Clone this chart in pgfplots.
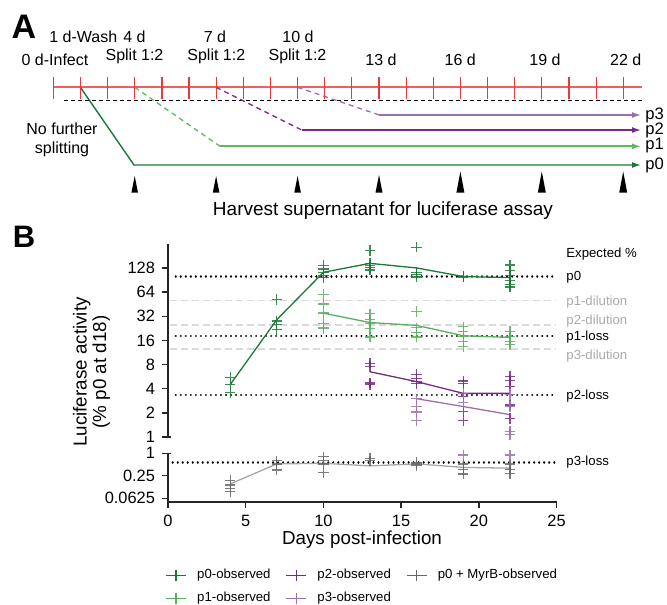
\documentclass[border=0pt]{standalone}
\usepackage{fontspec}
\setmainfont{Liberation Sans}
\usepackage{pgfplots}
\pgfplotsset{compat=1.18}
\usetikzlibrary{arrows.meta}

\definecolor{pzero}{HTML}{1B7837}
\definecolor{pone}{HTML}{5AAE61}
\definecolor{ponel}{HTML}{5DB862}
\definecolor{ptwo}{HTML}{762A83}
\definecolor{pthree}{HTML}{9970AB}
\definecolor{myrb}{HTML}{666666}
\definecolor{myrbline}{HTML}{A6A6A6}
\definecolor{tlred}{HTML}{E8383D}
\definecolor{dilgray}{HTML}{DADADA}
\definecolor{dillabel}{HTML}{AAAAAA}

\newcommand\tickfont{\fontsize{8.2pt}{9.8pt}\selectfont}
\newcommand\labfont{\fontsize{9.4pt}{9.8pt}\selectfont}
\newcommand\smallfont{\fontsize{6.6pt}{8pt}\selectfont}
\newcommand\schfont{\fontsize{8pt}{9.6pt}\selectfont}

\pgfplotsset{
  obs/.style={only marks, mark=+, mark size=2.6pt, mark options={line width=0.65pt, opacity=0.85}},
  mean/.style={no markers, line width=0.65pt},
  expd/.style={black, line width=1.1pt, dash pattern=on 0.01pt off 2.5pt, line cap=round},
  dil/.style={dilgray, line width=0.8pt, dash pattern=on 3.5pt off 2pt},
}

\begin{document}
\begin{tikzpicture}
\useasboundingbox (0,0) rectangle (333.5pt,302pt);

% canvas in pixel units: schematic A and free text
\begin{axis}[at={(0pt,0pt)}, anchor=south west, scale only axis, width=333.5pt, height=302pt,
  xmin=0, xmax=667, ymin=0, ymax=604, y dir=reverse, hide axis, clip=false]
  % timeline
  \addplot[tlred!80, line width=0.8pt] coordinates {(53.3,87.3) (641.7,87.3)};
  \addplot[tlred, only marks, mark=|, mark size=5.6pt, mark options={line width=0.6pt}] coordinates {
    (53.3,87.8) (80.4,87.8) (107.6,87.8) (134.7,87.8) (161.9,87.8) (189.0,87.8) (216.1,87.8) (243.3,87.8)
    (270.4,87.8) (297.6,87.8) (324.7,87.8) (351.8,87.8) (379.0,87.8) (406.1,87.8) (433.3,87.8) (460.4,87.8)
    (487.5,87.8) (514.7,87.8) (541.8,87.8) (569.0,87.8) (596.1,87.8) (623.2,87.8)};
  \addplot[black, line width=0.6pt, dash pattern=on 2pt off 1.5pt] coordinates {(64.3,100.7) (641.7,100.7)};
  % passages
  \addplot[pzero, line width=0.7pt, -{Latex[length=4.5pt,width=3pt]}] coordinates {(80.4,87.3) (134,165) (641,165)};
  \addplot[ponel, line width=0.65pt, dash pattern=on 2.5pt off 2pt] coordinates {(134.7,87.3) (220,146.3)};
  \addplot[ponel, line width=0.85pt, -{Latex[length=4.5pt,width=3pt]}] coordinates {(220,146.3) (641,146.3)};
  \addplot[ptwo, line width=0.65pt, dash pattern=on 2.5pt off 2pt] coordinates {(216.1,87.3) (301.7,130)};
  \addplot[ptwo, line width=0.7pt, -{Latex[length=4.5pt,width=3pt]}] coordinates {(301.7,130) (641,130)};
  \addplot[pthree, line width=0.65pt, dash pattern=on 2.5pt off 2pt] coordinates {(297.6,87.3) (379.3,115)};
  \addplot[pthree, line width=0.7pt, -{Latex[length=4.5pt,width=3pt]}] coordinates {(379.3,115) (641,115)};
  % harvest arrowheads
  \addplot[fill=black, draw=none] coordinates {(131.4,192.7) (134.7,176) (138.0,192.7)} -- cycle;
  \addplot[fill=black, draw=none] coordinates {(212.8,192.7) (216.1,176) (219.4,192.7)} -- cycle;
  \addplot[fill=black, draw=none] coordinates {(294.3,192.7) (297.6,176) (300.9,192.7)} -- cycle;
  \addplot[fill=black, draw=none] coordinates {(375.5,192.7) (379.0,175) (382.5,192.7)} -- cycle;
  \addplot[fill=black, draw=none] coordinates {(456.4,192.7) (460.4,171.5) (464.4,192.7)} -- cycle;
  \addplot[fill=black, draw=none] coordinates {(537.8,192.7) (541.8,171.5) (545.8,192.7)} -- cycle;
  \addplot[fill=black, draw=none] coordinates {(619.2,192.7) (623.2,171.5) (627.2,192.7)} -- cycle;

  \node[font=\fontsize{17pt}{20pt}\bfseries] at (axis cs:24,27) {A};
  \node[font=\fontsize{15.5pt}{18pt}\bfseries] at (axis cs:24,237) {B};
  \node[font=\schfont] at (axis cs:83.3,36.7) {1 d-Wash};
  \node[font=\schfont] at (axis cs:134.5,36.7) {4 d};
  \node[font=\schfont] at (axis cs:215,36.7) {7 d};
  \node[font=\schfont] at (axis cs:298,36.7) {10 d};
  \node[font=\schfont] at (axis cs:55,60) {0 d-Infect};
  \node[font=\schfont] at (axis cs:134.5,56) {Split 1:2};
  \node[font=\schfont] at (axis cs:216.3,56) {Split 1:2};
  \node[font=\schfont] at (axis cs:297.5,56) {Split 1:2};
  \node[font=\schfont] at (axis cs:381,60) {13 d};
  \node[font=\schfont] at (axis cs:460.3,60) {16 d};
  \node[font=\schfont] at (axis cs:545,60) {19 d};
  \node[font=\schfont] at (axis cs:625.8,60) {22 d};
  \node[font=\schfont, align=center] at (axis cs:62,140) {No further\\splitting};
  \node[font=\fontsize{8.3pt}{10pt}\selectfont, anchor=west, inner sep=0pt] at (axis cs:645,115) {p3};
  \node[font=\fontsize{8.3pt}{10pt}\selectfont, anchor=west, inner sep=0pt] at (axis cs:645,130) {p2};
  \node[font=\fontsize{8.3pt}{10pt}\selectfont, anchor=west, inner sep=0pt] at (axis cs:645,145.7) {p1};
  \node[font=\fontsize{8.3pt}{10pt}\selectfont, anchor=west, inner sep=0pt] at (axis cs:645,165) {p0};
  \node[font=\fontsize{9.5pt}{11pt}\selectfont] at (axis cs:383,211) {Harvest supernatant for luciferase assay};

  % panel B free text
  \node[font=\labfont] at (axis cs:362,540) {Days post-infection};
  \node[font=\labfont, align=center, rotate=90] at (axis cs:91.5,372) {Luciferase activity\\(\% p0 at d18)};
  \node[font=\smallfont, anchor=west, inner sep=0pt] at (axis cs:566,254) {Expected \%};
  \node[font=\smallfont, anchor=west, inner sep=0pt] at (axis cs:566,277) {p0};
  \node[font=\smallfont, anchor=west, inner sep=0pt, text=dillabel] at (axis cs:566,301.7) {p1-dilution};
  \node[font=\smallfont, anchor=west, inner sep=0pt, text=dillabel] at (axis cs:566,320.7) {p2-dilution};
  \node[font=\smallfont, anchor=west, inner sep=0pt] at (axis cs:566,336.7) {p1-loss};
  \node[font=\smallfont, anchor=west, inner sep=0pt, text=dillabel] at (axis cs:566,356) {p3-dilution};
  \node[font=\smallfont, anchor=west, inner sep=0pt] at (axis cs:566,395.7) {p2-loss};
  \node[font=\smallfont, anchor=west, inner sep=0pt] at (axis cs:566,462) {p3-loss};
\end{axis}

% panel B, upper part
\begin{axis}[at={(84pt,83.5pt)}, anchor=south west, scale only axis, width=194.25pt, height=96.6pt,
  xmin=0, xmax=25, ymode=log, log basis y=2, ymin=1, ymax=256, clip=false,
  axis x line=none, axis y line=left,
  axis line style={-, line width=0.7pt, black!85},
  tick style={line width=0.7pt, black!85}, tick align=outside, major tick length=3pt,
  yticklabel style={font=\tickfont},
  ytick={1,2,4,8,16,32,64,128}, yticklabels={1,2,4,8,16,32,64,128}]
  \addplot[dil] coordinates {(0.1,50) (24.9,50)};
  \addplot[dil] coordinates {(0.1,25) (24.9,25)};
  \addplot[dil] coordinates {(0.1,12.5) (24.9,12.5)};
  \addplot[expd] coordinates {(0.5,100) (25,100)};
  \addplot[expd] coordinates {(0.5,18.3) (25,18.3)};
  \addplot[expd] coordinates {(0.5,3.35) (25,3.35)};

  \addplot[pzero, obs] coordinates {
    (4,5.5) (4,4.5) (4,3.6)
    (7,52) (7,28) (7,25) (7,22)
    (10,137) (10,124) (10,113) (10,103) (10,97)
    (13,210) (13,146) (13,137) (13,129) (13,121)
    (16,232) (16,113) (16,107) (16,99)
    (19,101) (19,100) (19,99)
    (22,139) (22,118) (22,103) (22,90) (22,80) (22,74)};
  \addplot[pzero, mean] coordinates {(4,4.5) (7,29) (10,113) (13,146) (16,128) (19,100) (22,97)};

  \addplot[pone, obs] coordinates {
    (10,60) (10,45.6) (10,35) (10,26) (10,23.4) (10,22.3)
    (13,34.4) (13,28.9) (13,25.8) (13,22.3) (13,17.6)
    (16,36.5) (16,23) (16,20) (16,17.6)
    (19,23.7) (19,20.7) (19,17.9) (19,15.5) (19,13.4)
    (22,20.7) (22,17.9) (22,15.5) (22,14.1)};
  \addplot[pone, mean] coordinates {(10,35) (13,26.7) (16,24.6) (19,18.3) (22,17.4)};

  \addplot[ptwo, obs] coordinates {
    (13,8.3) (13,7.6) (13,4.7) (13,4.5)
    (16,6.0) (16,5.4) (16,4.9) (16,4.6)
    (19,5.0) (19,4.6) (19,3.2) (19,2.1) (19,1.6)
    (22,5.7) (22,5.1) (22,4.3) (22,2.5) (22,1.7)};
  \addplot[ptwo, mean] coordinates {(13,6.5) (16,4.9) (19,3.5) (22,3.5)};

  \addplot[pthree, obs] coordinates {
    (16,3.0) (16,2.4) (16,2.05) (16,1.6)
    (19,3.5) (19,2.7)
    (22,3.4) (22,2.4) (22,1.18) (22,1.07)};
  \addplot[pthree, mean] coordinates {(16,3.0) (19,2.4) (22,1.9)};
  % end cap at the axis bottom
  \addplot[black!85, line width=0.7pt] coordinates {(-0.2,1) (0.2,1)};
\end{axis}

% panel B, lower part
\begin{axis}[at={(84pt,51pt)}, anchor=south west, scale only axis, width=194.25pt, height=24.35pt,
  xmin=0, xmax=25, ymode=log, log basis y=2, ymin=0.0497, ymax=1, clip=false,
  axis lines=left,
  axis line style={-, line width=0.7pt, black!85},
  tick style={line width=0.7pt, black!85}, tick align=outside, major tick length=3pt,
  ticklabel style={font=\tickfont},
  xtick={0,5,10,15,20,25}, xticklabels={0,5,10,15,20,25},
  ytick={0.0625,0.25,1}, yticklabels={0.0625,0.25,1},
  legend columns=3, legend cell align=left,
  legend image code/.code={\draw[#1, mark=none] (0pt,0pt) -- (10pt,0pt); \draw[#1, only marks] plot coordinates {(5pt,0pt)}; \path (13.3pt,0pt);},
  legend style={at={(-0.008,-1.29)}, anchor=north west, draw=none, fill=none, inner sep=0pt,
    font=\smallfont, row sep=1.3pt, /tikz/every even column/.append style={column sep=5.5pt}}]
  \addlegendimage{pzero, line width=0.65pt, mark=+, mark size=2.6pt}
  \addlegendentry{p0-observed}
  \addlegendimage{ptwo, line width=0.65pt, mark=+, mark size=2.6pt}
  \addlegendentry{p2-observed}
  \addlegendimage{myrb, line width=0.65pt, mark=+, mark size=2.6pt}
  \addlegendentry{p0 + MyrB-observed}
  \addlegendimage{pone, line width=0.65pt, mark=+, mark size=2.6pt}
  \addlegendentry{p1-observed}
  \addlegendimage{pthree, line width=0.65pt, mark=+, mark size=2.6pt}
  \addlegendentry{p3-observed}

  \addplot[expd, forget plot] coordinates {(0.3,0.57) (25,0.57)};
  \addplot[myrb, obs, forget plot] coordinates {
    (4,0.185) (4,0.142) (4,0.116) (4,0.094)
    (7,0.63) (7,0.52) (7,0.36)
    (10,0.81) (10,0.63) (10,0.52) (10,0.30)
    (13,0.74) (13,0.63)
    (16,0.57) (16,0.52) (16,0.47)
    (19,0.52) (19,0.37) (19,0.28)
    (22,0.52) (22,0.37) (22,0.29)};
  \addplot[myrbline, mean, forget plot] coordinates {(4,0.151) (7,0.52) (10,0.54) (13,0.46) (16,0.52) (19,0.42) (22,0.40)};
  \addplot[pthree, obs, forget plot] coordinates {(19,0.9) (22,0.9)};
  % end cap at the axis top
  \addplot[black!85, line width=0.7pt, forget plot] coordinates {(-0.2,1) (0.2,1)};
\end{axis}
\end{tikzpicture}
\end{document}
